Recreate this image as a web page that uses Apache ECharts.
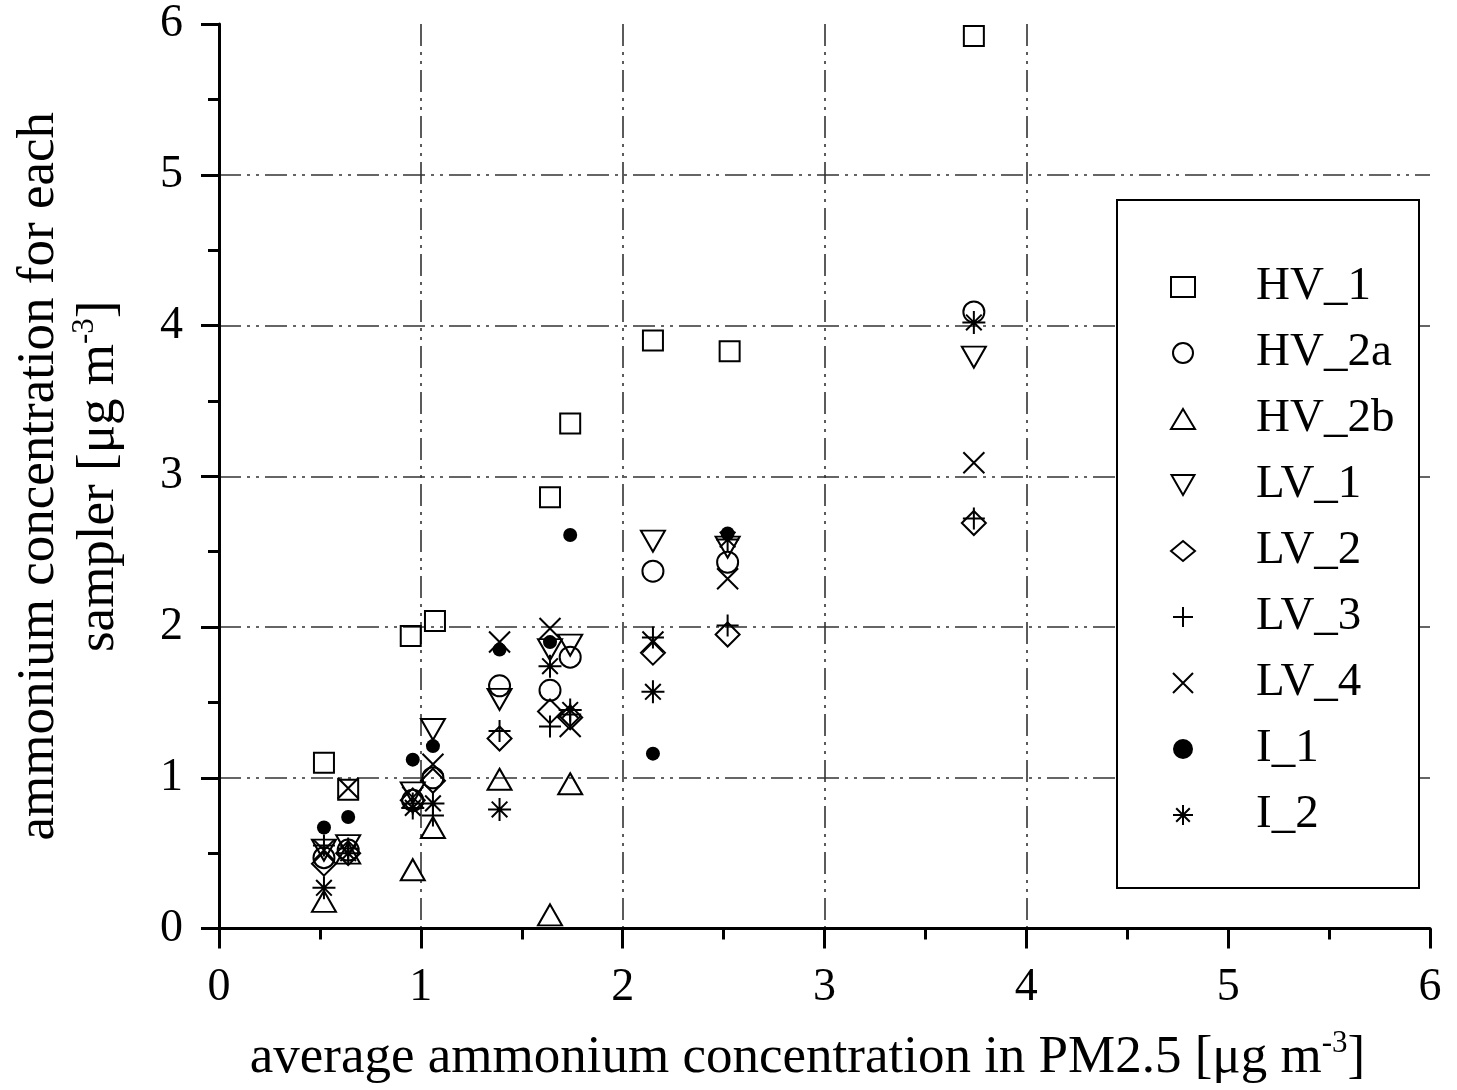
<!DOCTYPE html>
<html><head><meta charset="utf-8">
<script src="https://cdn.jsdelivr.net/npm/echarts@6/dist/echarts.min.js"></script>
<style>html,body{margin:0;padding:0;background:#fff}#c{width:1457px;height:1090px}</style>
</head><body><div id="c"></div>
<script>
// ---- data (x = average ammonium in PM2.5, y = sampler concentration) ----
const seriesNames = ['HV_1','HV_2a','HV_2b','LV_1','LV_2','LV_3','LV_4','I_1','I_2'];
const HV_1  = [[0.52,1.10],[0.64,0.92],[0.95,1.94],[1.07,2.04],[1.64,2.86],[1.74,3.35],[2.15,3.90],[2.53,3.83],[3.74,5.92]];
const HV_2a = [[0.52,0.47],[0.64,0.52],[0.96,0.85],[1.06,1.00],[1.39,1.61],[1.64,1.58],[1.74,1.80],[2.15,2.37],[2.52,2.43],[3.74,4.09]];
const HV_2b = [[0.52,0.18],[0.64,0.50],[0.96,0.39],[1.06,0.67],[1.39,0.99],[1.64,0.09],[1.74,0.96]];
const LV_1  = [[0.52,0.52],[0.64,0.55],[0.96,0.90],[1.06,1.32],[1.39,1.52],[1.64,1.85],[1.74,1.88],[2.15,2.57],[2.52,2.53],[3.74,3.79]];
const LV_2  = [[0.52,0.43],[0.64,0.50],[0.96,0.85],[1.06,0.98],[1.39,1.26],[1.64,1.44],[1.74,1.40],[2.15,1.83],[2.52,1.95],[3.74,2.69]];
const LV_3  = [[0.52,0.55],[0.64,0.53],[0.96,0.83],[1.06,0.75],[1.39,1.31],[1.64,1.34],[1.74,1.42],[2.15,1.93],[2.52,2.01],[3.74,2.72]];
const LV_4  = [[0.52,0.52],[0.64,0.93],[0.96,0.87],[1.06,1.09],[1.39,1.90],[1.64,1.99],[1.74,1.34],[2.15,1.90],[2.52,2.32],[3.74,3.09]];
const I_1   = [[0.52,0.67],[0.64,0.74],[0.96,1.12],[1.06,1.21],[1.39,1.85],[1.64,1.90],[1.74,2.61],[2.15,1.16],[2.52,2.62]];
const I_2   = [[0.52,0.27],[0.64,0.50],[0.96,0.80],[1.06,0.83],[1.39,0.79],[1.64,1.74],[1.74,1.45],[2.15,1.57],[2.52,2.58],[3.74,4.02]];
const xTickLabels = ['0','1','2','3','4','5','6'];
const yTickLabels = ['0','1','2','3','4','5','6'];
const xTitle = '{t|average ammonium concentration in PM2.5 [μg m}{s|-3}{t|]}';
const yTitle = '{t|ammonium concentration for each}\n{t|sampler [μg m}{s|-3}{t|]}';

const FONT = '"Liberation Serif","Times New Roman",serif';
const K = '#000';
const seriesData = [HV_1, HV_2a, HV_2b, LV_1, LV_2, LV_3, LV_4, I_1, I_2];
const symbols = [
  {symbol:'rect', size:20, fill:false},
  {symbol:'circle', size:21, fill:false},
  {symbol:'triangle', size:[24,21], fill:false},
  {symbol:'path://M0,0L10,0L5,8.7Z', size:[24,21], fill:false},
  {symbol:'diamond', size:[24,24], fill:false},
  {symbol:'path://M5,0L5,10M0,5L10,5', size:22, fill:false},
  {symbol:'path://M0,0L10,10M10,0L0,10', size:21, fill:false},
  {symbol:'circle', size:14, fill:true},
  {symbol:'path://M5,0L5,10M0,5L10,5M1.6,1.6L8.4,8.4M8.4,1.6L1.6,8.4', size:23, fill:false}
];
const rich = {
  t:{fontFamily:FONT, fontSize:53, color:K, lineHeight:60},
  s:{fontFamily:FONT, fontSize:31, color:K, lineHeight:30, verticalAlign:'top'}
};
const gridDash = [22,6,3,6,3,6];
const clear = 'rgba(0,0,0,0)', gc = '#333';

const chart = echarts.init(document.getElementById('c'), null, {renderer:'canvas'});
chart.setOption({
  backgroundColor:'#fff',
  animation:false,
  grid:{left:219, right:27, top:24, bottom:161, containLabel:false},
  xAxis:{
    type:'value', min:0, max:6, interval:1,
    axisLine:{show:true, onZero:false, lineStyle:{color:K, width:3}},
    axisTick:{show:true, inside:false, length:20, lineStyle:{color:K, width:3}},
    minorTick:{show:true, splitNumber:2, length:11, lineStyle:{color:K, width:3}},
    axisLabel:{margin:36, fontFamily:FONT, fontSize:46, color:K, formatter:(v)=>xTickLabels[Math.round(v)]},
    splitLine:{show:true, lineStyle:{color:[clear,gc,gc,gc,gc,clear,clear], width:1.6, type:gridDash}},
    name:xTitle, nameLocation:'middle', nameGap:100,
    nameTextStyle:{rich:rich, padding:[0,34,0,0]}
  },
  yAxis:{
    type:'value', min:0, max:6, interval:1,
    axisLine:{show:true, onZero:false, lineStyle:{color:K, width:3}},
    axisTick:{show:true, inside:false, length:18, lineStyle:{color:K, width:3}},
    minorTick:{show:true, splitNumber:2, length:11, lineStyle:{color:K, width:3}},
    axisLabel:{margin:36, fontFamily:FONT, fontSize:46, color:K, formatter:(v)=>yTickLabels[Math.round(v)]},
    splitLine:{show:true, lineStyle:{color:[clear,gc,gc,gc,gc,gc,clear], width:1.6, type:gridDash}},
    name:yTitle, nameLocation:'middle', nameGap:90, nameRotate:90,
    nameTextStyle:{rich:rich}
  },
  graphic:[{type:'rect', z:3, shape:{x:1117, y:200, width:302, height:688}, style:{fill:'#fff', stroke:K, lineWidth:2}}],
  legend:{
    orient:'vertical', left:1170, top:262, padding:0, z:5,
    itemWidth:24, itemHeight:20, itemGap:16, selectedMode:false,
    textStyle:{fontFamily:FONT, fontSize:47, color:K, lineHeight:50, padding:[0,0,0,56]},
    data:seriesNames
  },
  series: seriesNames.map((n,i)=>({
    name:n, type:'scatter', data:seriesData[i],
    symbol:symbols[i].symbol, symbolSize:symbols[i].size,
    itemStyle:{color: symbols[i].fill ? K : clear, borderColor:K, borderWidth: symbols[i].fill ? 0 : 2, opacity:1},
    emphasis:{disabled:true}, z:2
  }))
});
</script></body></html>
